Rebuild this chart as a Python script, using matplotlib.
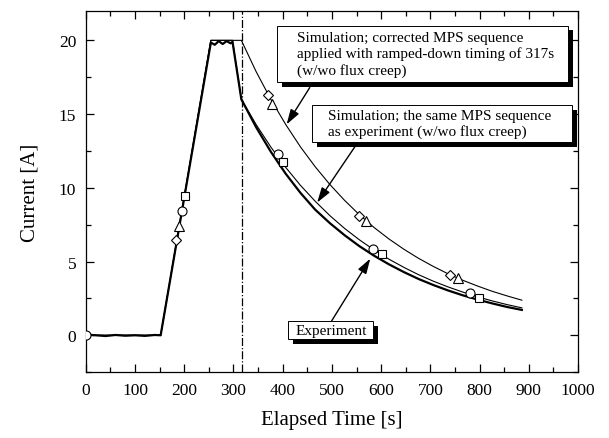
import matplotlib
matplotlib.use("Agg")
import matplotlib.pyplot as plt
import matplotlib.patheffects as pe
from matplotlib.patches import Rectangle
from matplotlib.ticker import MultipleLocator

plt.rcParams['font.family'] = ['Liberation Serif', 'DejaVu Serif']

# ---------------- data ----------------
exp_t = [0, 20, 40, 60, 80, 100, 120, 140, 152, 254, 262, 270, 278, 286, 294, 298, 316,
         346, 376, 406, 436, 466, 496, 526, 556, 586, 616, 646, 676, 706, 736, 766,
         796, 826, 856, 886]
exp_I = [0.05, 0.0, -0.05, 0.02, -0.03, 0.0, -0.04, 0.02, 0.0, 19.85, 19.7, 19.95, 19.75, 19.95, 19.8, 19.9, 16.0,
         14.11, 12.44, 10.96, 9.66, 8.52, 7.60, 6.78, 6.04, 5.39, 4.81, 4.29, 3.82, 3.41, 3.04, 2.71,
         2.42, 2.16, 1.92, 1.72]

sim_same_t = [0, 152, 254, 298, 316, 346, 376, 406, 436, 466, 496, 526, 556, 586, 616, 646,
              676, 706, 736, 766, 796, 826, 856, 886]
sim_same_I = [0.0, 0.0, 20.0, 20.0, 16.0, 14.29, 12.76, 11.39, 10.17, 9.09, 8.11, 7.24, 6.47, 5.78, 5.16, 4.61,
              4.11, 3.67, 3.28, 2.93, 2.61, 2.33, 2.08, 1.86]

sim_corr_t = [0, 152, 254, 316, 346, 376, 406, 436, 466, 496, 526, 556, 586, 616, 646,
              676, 706, 736, 766, 796, 826, 856, 886]
sim_corr_I = [0.0, 0.0, 20.0, 20.0, 17.88, 15.99, 14.30, 12.78, 11.43, 10.22, 9.14, 8.17, 7.30, 6.53, 5.84,
              5.22, 4.67, 4.17, 3.73, 3.34, 2.98, 2.67, 2.38]

circle_t = [0, 196, 391, 584, 780]
circle_I = [0.0, 8.43, 12.3, 5.85, 2.9]
square_t = [201, 400, 601, 799]
square_I = [9.44, 11.75, 5.5, 2.55]
diamond_t = [184, 370, 556, 740]
diamond_I = [6.46, 16.3, 8.1, 4.07]
triangle_t = [189, 379, 569, 756]
triangle_I = [7.4, 15.7, 7.75, 3.9]

ramp_down_time = 317

label_corr = "Simulation; corrected MPS sequence\napplied with ramped-down timing of 317s\n(w/wo flux creep)"
label_same = "Simulation; the same MPS sequence\nas experiment (w/wo flux creep)"
label_exp = "Experiment"

# ---------------- figure ----------------
fig = plt.figure(figsize=(6.09, 4.39), dpi=100)
ax = fig.add_axes([0.141, 0.150, 0.808, 0.823])

ax.plot(sim_corr_t, sim_corr_I, color='black', lw=0.8)
ax.plot(sim_same_t, sim_same_I, color='black', lw=0.8)
ax.plot(exp_t, exp_I, color='black', lw=1.6)

mk = dict(linestyle='none', markerfacecolor='white', markeredgecolor='black',
          markeredgewidth=0.8, markersize=6.5, zorder=5)
ax.plot(diamond_t, diamond_I, marker='D', **{**mk, 'markersize': 5.5})
ax.plot(triangle_t, triangle_I, marker='^', **mk)
ax.plot(circle_t, circle_I, marker='o', **mk)
ax.plot(square_t, square_I, marker='s', **{**mk, 'markersize': 5.5})

ax.axvline(ramp_down_time, color='black', lw=0.9, linestyle='-.')

ax.set_xlim(0, 1000)
ax.set_ylim(-2.5, 22)
ax.xaxis.set_major_locator(MultipleLocator(100))
ax.xaxis.set_minor_locator(MultipleLocator(50))
ax.yaxis.set_major_locator(MultipleLocator(5))
ax.yaxis.set_minor_locator(MultipleLocator(2.5))
ax.tick_params(which='both', direction='in', top=True, right=True, labelsize=12.5, width=0.9)
ax.tick_params(which='major', length=6, pad=7)
ax.tick_params(which='minor', length=3.5)
for s in ax.spines.values():
    s.set_linewidth(0.9)

ax.set_xlabel('Elapsed Time [s]', fontsize=15, labelpad=9)
ax.set_ylabel('Current [A]', fontsize=15, labelpad=14)

shadow = [pe.withSimplePatchShadow(offset=(3.5, -3.5), shadow_rgbFace='black', alpha=1.0)]

def box(x0, x1, y0, y1, tx, s):
    r = Rectangle((x0, y0), x1 - x0, y1 - y0, fc='white', ec='black', lw=0.7, zorder=10)
    r.set_path_effects(shadow)
    ax.add_patch(r)
    ax.text(tx, (y0 + y1) / 2, s, fontsize=11, ha='left', va='center',
            linespacing=1.25, zorder=11)

box(388, 980, 17.15, 21.0, 429, label_corr)
box(459, 988, 13.1, 15.6, 492, label_same)
box(411, 583, -0.27, 0.95, 427, label_exp)

arw = dict(arrowstyle='-|>,head_length=0.7,head_width=0.22', color='black', lw=1.0,
           mutation_scale=13, shrinkA=0, shrinkB=0)
ax.annotate('', xy=(408, 14.3), xytext=(455, 16.8), arrowprops=arw, zorder=9)
ax.annotate('', xy=(470, 9.0), xytext=(547, 12.8), arrowprops=arw, zorder=9)
ax.annotate('', xy=(578, 5.2), xytext=(499, 0.95), arrowprops=arw, zorder=9)

fig.savefig('out.png', dpi=100)
